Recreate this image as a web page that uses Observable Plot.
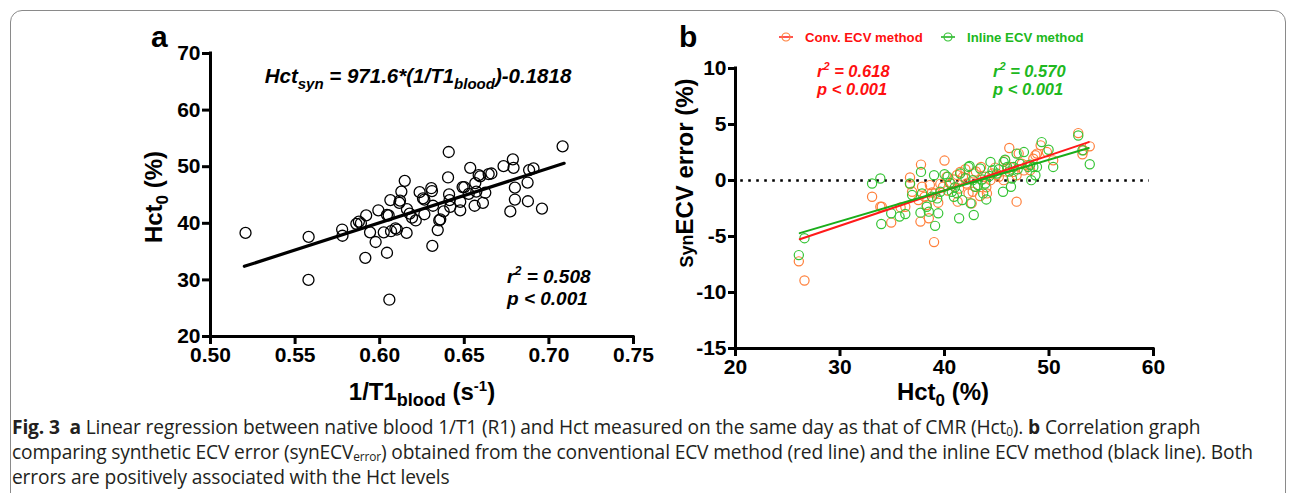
<!DOCTYPE html>
<html><head><meta charset="utf-8">
<script src="https://cdn.jsdelivr.net/npm/d3@7"></script>
<script src="https://cdn.jsdelivr.net/npm/@observablehq/plot@0.6"></script>
<style>
body{margin:0;background:#fff;width:1295px;height:493px;overflow:hidden;position:relative;font-family:"Liberation Sans",Arial,sans-serif}
#frame{position:absolute;left:10px;top:10px;width:1274px;height:540px;border:1.5px solid #8a8a8a;border-radius:12px;}
#pa{position:absolute;left:0;top:0}
#pb{position:absolute;left:650px;top:0}
#cap{position:absolute;left:12px;top:414px;font-family:"Open Sans",sans-serif;font-size:19.2px;line-height:25px;white-space:nowrap;color:#231f20;letter-spacing:-0.15px}
#cap sub{font-size:0.62em;vertical-align:-0.2em;line-height:0}
#cap div{height:25px;overflow:visible}
</style></head><body>
<div id="frame"></div>
<div id="pa"></div>
<div id="pb"></div>
<div id="cap"><div><b>Fig. 3</b>&nbsp; <b>a</b> Linear regression between native blood 1/T1 (R1) and Hct measured on the same day as that of CMR (Hct<sub>0</sub>). <b>b</b> Correlation graph</div><div>comparing synthetic ECV error (synECV<sub>error</sub>) obtained from the conventional ECV method (red line) and the inline ECV method (black line). Both</div><div>errors are positively associated with the Hct levels</div></div>
<script>
// ---------- Panel a data ----------
const aX = [0.5207,0.558,0.5579,0.5778,0.578,0.5862,0.5877,0.5889,0.592,0.5915,0.5943,0.5976,0.5992,0.6024,0.6043,0.6043,0.6053,0.6063,0.6067,0.6057,0.6093,0.6102,0.6116,0.6128,0.6148,0.612,0.6159,0.6161,0.6177,0.6191,0.6213,0.6236,0.6256,0.6264,0.6264,0.6305,0.6309,0.6315,0.6311,0.6343,0.6352,0.6358,0.6378,0.6408,0.6404,0.641,0.6417,0.6413,0.6476,0.6476,0.649,0.65,0.6535,0.6526,0.6561,0.6565,0.6571,0.6585,0.6594,0.661,0.6624,0.6644,0.666,0.6732,0.6787,0.6791,0.6772,0.6799,0.6799,0.6874,0.6876,0.6883,0.6909,0.6959,0.7081];
const aY = [38.3,37.6,30.0,38.9,37.8,39.9,40.3,40.0,41.4,33.9,38.4,36.7,42.3,38.4,34.8,41.5,41.4,44.1,38.6,26.5,39.1,38.9,43.6,45.6,47.5,44.0,38.3,42.5,41.7,41.0,40.5,45.5,44.4,41.6,44.2,46.2,45.7,43.1,36.0,38.8,40.5,40.7,42.1,52.6,48.1,45.1,42.9,44.1,43.8,42.3,46.4,46.4,49.8,45.2,43.1,47.1,45.6,48.5,48.3,43.6,45.4,48.7,48.8,50.1,51.3,49.8,42.1,46.3,44.2,47.2,43.9,49.4,49.7,42.6,53.6];
const aFitX = [0.520, 0.709];
const aFitY = [32.4, 50.6];
const aXTicks = [0.50,0.55,0.60,0.65,0.70,0.75];
const aYTicks = [20,30,40,50,60,70];

// ---------- Panel b data ----------
const convX = [26.06,26.6,33.07,33.86,34.0,34.9,35.8,36.25,36.7,36.7,36.9,37.5,37.75,37.7,37.85,38.1,38.3,38.5,38.6,38.8,39.0,39.1,39.4,40.0,39.86,40.2,40.6,40.9,41.26,41.4,41.5,41.77,42.1,42.3,42.6,42.8,42.95,43.4,43.5,43.9,44.06,44.4,44.6,44.86,45.2,45.66,45.8,46.0,46.2,46.3,46.6,46.9,46.9,47.1,47.4,47.9,48.2,48.5,48.85,49.2,49.8,50.4,52.8,53.2,53.9,53.3,48.7,41.2,42.0,43.0,44.0,45.0,40.3,39.6,47.6,42.7];
const convY = [-7.22,-8.93,-1.45,-2.34,-2.34,-3.76,-2.4,-2.34,0.27,-0.33,-1.0,-1.75,1.42,-3.67,-0.56,-1.45,-2.19,-3.37,-0.41,-1.07,-5.5,-1.15,-1.98,1.78,-0.56,0.33,-0.27,0.09,-1.89,-0.71,0.77,0.33,-0.27,-1.15,-2.04,0.62,-0.56,-1.39,1.21,0.33,-1.15,0.03,0.62,1.15,0.33,0.03,1.8,1.07,2.9,1.21,0.77,-1.89,0.47,2.4,1.5,1.36,0.92,1.95,2.4,3.14,2.54,1.8,4.23,2.34,3.05,2.7,2.25,0.5,1.0,0.8,-0.6,0.5,-0.9,-0.3,0.9,-1.0];
const inlineX = [26.06,26.6,33.07,33.86,33.95,34.9,35.7,36.25,36.7,36.9,37.7,37.75,37.85,38.3,38.5,38.8,39.0,39.1,39.4,39.6,40.0,40.3,40.7,40.9,41.2,41.4,41.5,41.7,42.3,42.4,42.5,42.7,42.8,42.95,43.4,43.6,43.7,43.9,44.0,44.4,44.6,45.0,45.6,45.66,45.8,46.0,46.36,46.45,46.6,46.9,47.2,47.6,48.0,48.3,48.5,48.7,48.85,49.3,49.96,50.4,52.8,53.2,53.9,41.0,42.0,43.2,44.3,45.2,46.2,47.0,40.5,39.3,48.2];
const inlineY = [-6.66,-5.15,-0.27,0.18,-3.88,-2.93,-3.22,-2.99,-0.27,-1.3,-2.87,0.77,-1.15,-2.34,-2.78,-1.45,0.47,-4.05,-2.93,-1.0,0.56,0.33,-1.0,-1.45,-1.15,-3.37,0.62,-1.75,1.21,1.3,-2.04,0.03,-3.08,-0.56,1.07,0.09,-1.15,-0.27,-1.69,1.66,0.92,0.62,-1.0,1.66,1.86,1.21,-0.56,0.18,1.21,2.4,1.5,2.54,1.21,0.03,1.21,0.47,1.21,3.43,2.75,1.21,4.02,2.7,1.45,-0.6,0.2,-0.4,0.4,1.0,0.8,1.0,-0.2,-1.6,1.4];
const convFitX = [26.15, 53.8];
const convFitY = [-5.24, 3.43];
const inlineFitX = [26.15, 53.8];
const inlineFitY = [-4.70, 2.90];
const bXTicks = [20,30,40,50,60];
const bYTicks = [-15,-10,-5,0,5,10];
const seriesNames = ["Conv. ECV method", "Inline ECV method"];

const zip = (xs, ys) => xs.map((x, i) => ({x, y: ys[i]}));
const baseStyle = {fontFamily: "'Liberation Sans', Arial, sans-serif", fontWeight: "bold", color: "#000", background: "transparent", overflow: "visible"};

const ORANGE = "#ff7f3a", GREEN = "#35c435", RED = "#ff1a1a", DGREEN = "#1aad1a";
const REDTXT = "#ff1010", GREENTXT = "#20b820";

// helper to add text with tspans
function addText(svg, x, y, parts, attrs = {}) {
  const t = d3.select(svg).append("text").attr("x", x).attr("y", y).attr("text-anchor", "start");
  for (const [k, v] of Object.entries(attrs)) t.attr(k, v);
  let shift = 0;
  for (const p of parts) {
    const s = typeof p === "string" ? {text: p} : p;
    const ts = t.append("tspan").text(s.text);
    const want = s.dy || 0;
    if (want !== shift) { ts.attr("dy", want - shift); shift = want; }
    if (s.size) ts.attr("font-size", s.size);
  }
  return t;
}

// ---------- Panel a ----------
const pa = Plot.plot({
  width: 650, height: 410,
  marginLeft: 210, marginRight: 17, marginTop: 53, marginBottom: 74,
  x: {domain: [0.5, 0.75]},
  y: {domain: [20, 70]},
  style: baseStyle,
  marks: [
    Plot.axisX({ticks: aXTicks, tickFormat: d => d.toFixed(2), tickSize: 8, tickPadding: 3, strokeWidth: 3, fontSize: 21, fontWeight: "bold", label: null}),
    Plot.axisY({ticks: aYTicks, tickFormat: d => String(d), tickSize: 8, tickPadding: 2, strokeWidth: 3, fontSize: 21, fontWeight: "bold", label: null}),
    Plot.ruleY([20], {strokeWidth: 3, strokeLinecap: "square"}),
    Plot.ruleX([0.5], {strokeWidth: 3, strokeLinecap: "square"}),
    Plot.dot(zip(aX, aY), {x: "x", y: "y", r: 5.5, stroke: "#000", strokeWidth: 1.3, fill: "none"}),
    Plot.line(zip(aFitX, aFitY), {x: "x", y: "y", stroke: "#000", strokeWidth: 3.2})
  ]
});
document.getElementById("pa").appendChild(pa);
addText(pa, 151, 47, ["a"], {"font-size": 30, "font-weight": "bold"});
addText(pa, 418, 83, ["Hct", {text: "syn", dy: 6, size: 15}, {text: " = 971.6*(1/T1", dy: 0}, {text: "blood", dy: 6, size: 15}, {text: ")-0.1818", dy: 0}], {"font-size": 20.5, "font-style": "italic", "text-anchor": "middle"});
addText(pa, 507, 283, ["r", {text: "2", dy: -8, size: 12.5}, {text: " = 0.508", dy: 0}], {"font-size": 19, "font-style": "italic"});
addText(pa, 507, 305, ["p < 0.001"], {"font-size": 19, "font-style": "italic"});
addText(pa, 422, 400, ["1/T1", {text: "blood", dy: 6, size: 18}, {text: " (s", dy: 0}, {text: "-1", dy: -9, size: 15}, {text: ")", dy: 0}], {"font-size": 24, "text-anchor": "middle"});
addText(pa, 0, 0, ["Hct", {text: "0", dy: 6, size: 17}, {text: " (%)", dy: 0}], {"font-size": 24, "text-anchor": "middle", transform: "translate(162,197) rotate(-90)"});

// ---------- Panel b ----------
const pb = Plot.plot({
  width: 645, height: 410,
  marginLeft: 85, marginRight: 142, marginTop: 68, marginBottom: 62,
  x: {domain: [20, 60]},
  y: {domain: [-15, 10]},
  style: baseStyle,
  marks: [
    Plot.axisX({ticks: bXTicks, tickFormat: d => String(d), tickSize: 8, tickPadding: 3, strokeWidth: 3, fontSize: 21, fontWeight: "bold", label: null}),
    Plot.axisY({ticks: bYTicks, tickFormat: d => String(d), tickSize: 7, tickPadding: 2, strokeWidth: 3, fontSize: 21, fontWeight: "bold", label: null}),
    Plot.ruleY([-15], {strokeWidth: 3, strokeLinecap: "square"}),
    Plot.ruleX([20], {strokeWidth: 3, strokeLinecap: "square"}),
    Plot.ruleY([0], {x1: 20.5, x2: 59.6, stroke: "#000", strokeWidth: 2.6, strokeDasharray: "2.6,5.4"}),
    Plot.dot(zip(convX, convY), {x: "x", y: "y", r: 4.6, stroke: ORANGE, strokeWidth: 1.2, fill: "none"}),
    Plot.dot(zip(inlineX, inlineY), {x: "x", y: "y", r: 4.6, stroke: GREEN, strokeWidth: 1.2, fill: "none"}),
    Plot.line(zip(convFitX, convFitY), {x: "x", y: "y", stroke: RED, strokeWidth: 2}),
    Plot.line(zip(inlineFitX, inlineFitY), {x: "x", y: "y", stroke: DGREEN, strokeWidth: 2})
  ]
});
document.getElementById("pb").appendChild(pb);
const ox = 650;
addText(pb, 679 - ox, 47, ["b"], {"font-size": 30, "font-weight": "bold"});
// legend
const lg = d3.select(pb).append("g");
[[779, ORANGE, RED, REDTXT, 805, seriesNames[0]], [941, GREEN, DGREEN, GREENTXT, 967, seriesNames[1]]].forEach(([lx, mc, lc, tc, tx, name]) => {
  lg.append("line").attr("x1", lx - ox).attr("x2", lx + 14 - ox).attr("y1", 37).attr("y2", 37).attr("stroke", lc).attr("stroke-width", 1.5);
  lg.append("circle").attr("cx", lx + 7 - ox).attr("cy", 37).attr("r", 4).attr("fill", "none").attr("stroke", mc).attr("stroke-width", 1.2);
  lg.append("text").attr("x", tx - ox).attr("y", 42).attr("text-anchor", "start").attr("font-size", 13.2).attr("fill", tc).text(name);
});
addText(pb, 817 - ox, 77, ["r", {text: "2", dy: -7, size: 11}, {text: " = 0.618", dy: 0}], {"font-size": 16.5, "font-style": "italic", fill: REDTXT});
addText(pb, 817 - ox, 95, ["p < 0.001"], {"font-size": 16.5, "font-style": "italic", fill: REDTXT});
addText(pb, 993 - ox, 77, ["r", {text: "2", dy: -7, size: 11}, {text: " = 0.570", dy: 0}], {"font-size": 16.5, "font-style": "italic", fill: GREENTXT});
addText(pb, 993 - ox, 95, ["p < 0.001"], {"font-size": 16.5, "font-style": "italic", fill: GREENTXT});
addText(pb, 943 - ox, 400, ["Hct", {text: "0", dy: 6, size: 17}, {text: " (%)", dy: 0}], {"font-size": 24, "text-anchor": "middle"});
addText(pb, 0, 0, [{text: "Syn", size: 18}, {text: "ECV error (%)"}], {"font-size": 24, "text-anchor": "middle", transform: `translate(${693 - ox},173) rotate(-90)`});
</script>
</body></html>
